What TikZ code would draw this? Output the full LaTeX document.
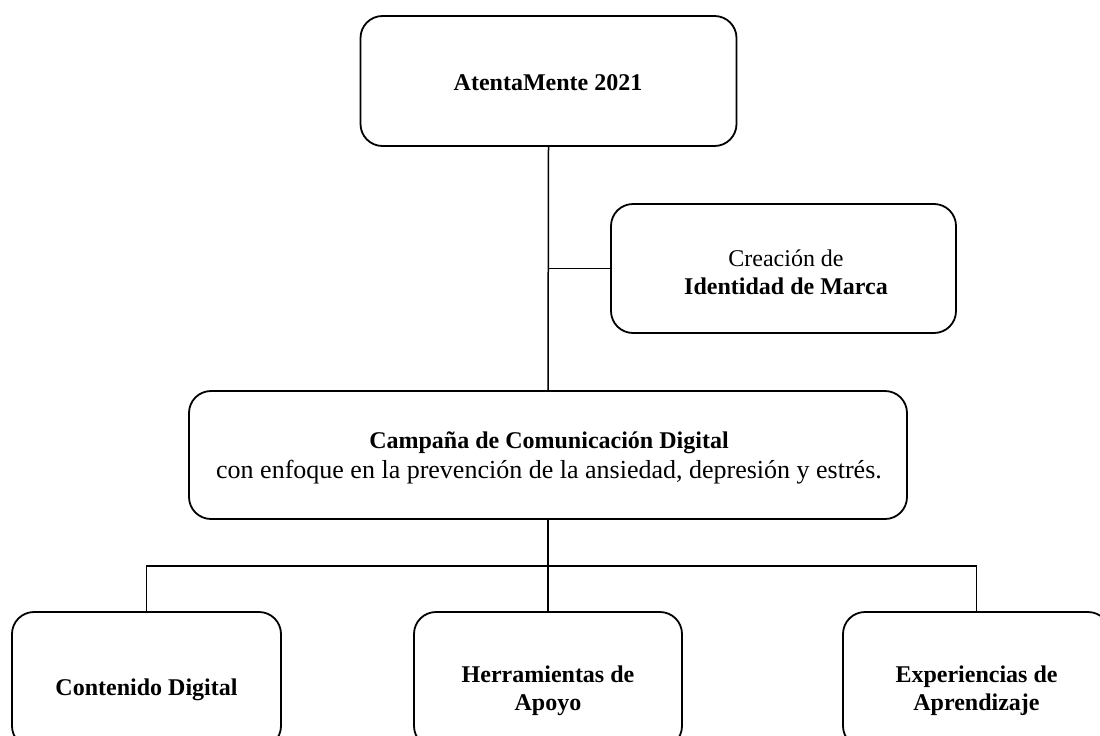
\documentclass[tikz,border=0pt]{standalone}
\usepackage{fontspec}
\setmainfont{Liberation Serif}
\begin{document}
\begin{tikzpicture}[x=1pt,y=-1pt,
  box/.style={draw=black,line width=1.8pt,rounded corners=22pt,inner sep=0pt,fill=white},
  txt/.style={align=center,font=\fontsize{24}{28}\selectfont,inner sep=0pt},
  conn/.style={draw=black,line width=1.5pt}]
\useasboundingbox (0,0) rectangle (1100,736);
\clip (0,0) rectangle (1100,736);
\fill[white] (0,0) rectangle (1100,736);
\coordinate (hub) at (548,566);
% boxes
\node[box,minimum width=376pt,minimum height=130pt] (top) at (548.5,81) {};
\node[box,minimum width=345pt,minimum height=129pt] (ident) at (783.5,268.5) {};
\node[box,minimum width=718pt,minimum height=128pt] (camp) at (548,455) {};
\node[box,minimum width=269pt,minimum height=136pt] (cd) at (146.5,680) {};
\node[box,minimum width=268pt,minimum height=136pt] (ha) at (548,680) {};
\node[box,minimum width=267pt,minimum height=136pt] (ea) at (976.5,680) {};
% texts
\node[txt] (ttop) at (548,83) {\textbf{AtentaMente 2021}};
\node[txt] (tident) at (786,272) {Creación de\\\textbf{Identidad de Marca}};
\node[txt] (tcamp1) at (549,443) {\textbf{Campaña de Comunicación Digital}};
\node[txt,font=\fontsize{26}{30}\selectfont] (tcamp2) at (549,472) {con enfoque en la prevención de la ansiedad, depresión y estrés.};
\node[txt] (tcd) at (146.5,690) {\textbf{Contenido Digital}};
\node[txt] (tha) at (548,691) {\textbf{Herramientas de}\\\textbf{Apoyo}};
\node[txt] (tea) at (976.5,691) {\textbf{Experiencias de}\\\textbf{Aprendizaje}};
% connectors
\draw[conn] (top.south) -- (camp.north);
\draw[conn] (top.south |- ident.west) -- (ident.west);
\draw[conn] (camp.south) -- (ha.north);
\draw[conn] (cd.north) |- (hub) -| (ea.north);
\end{tikzpicture}
\end{document}
